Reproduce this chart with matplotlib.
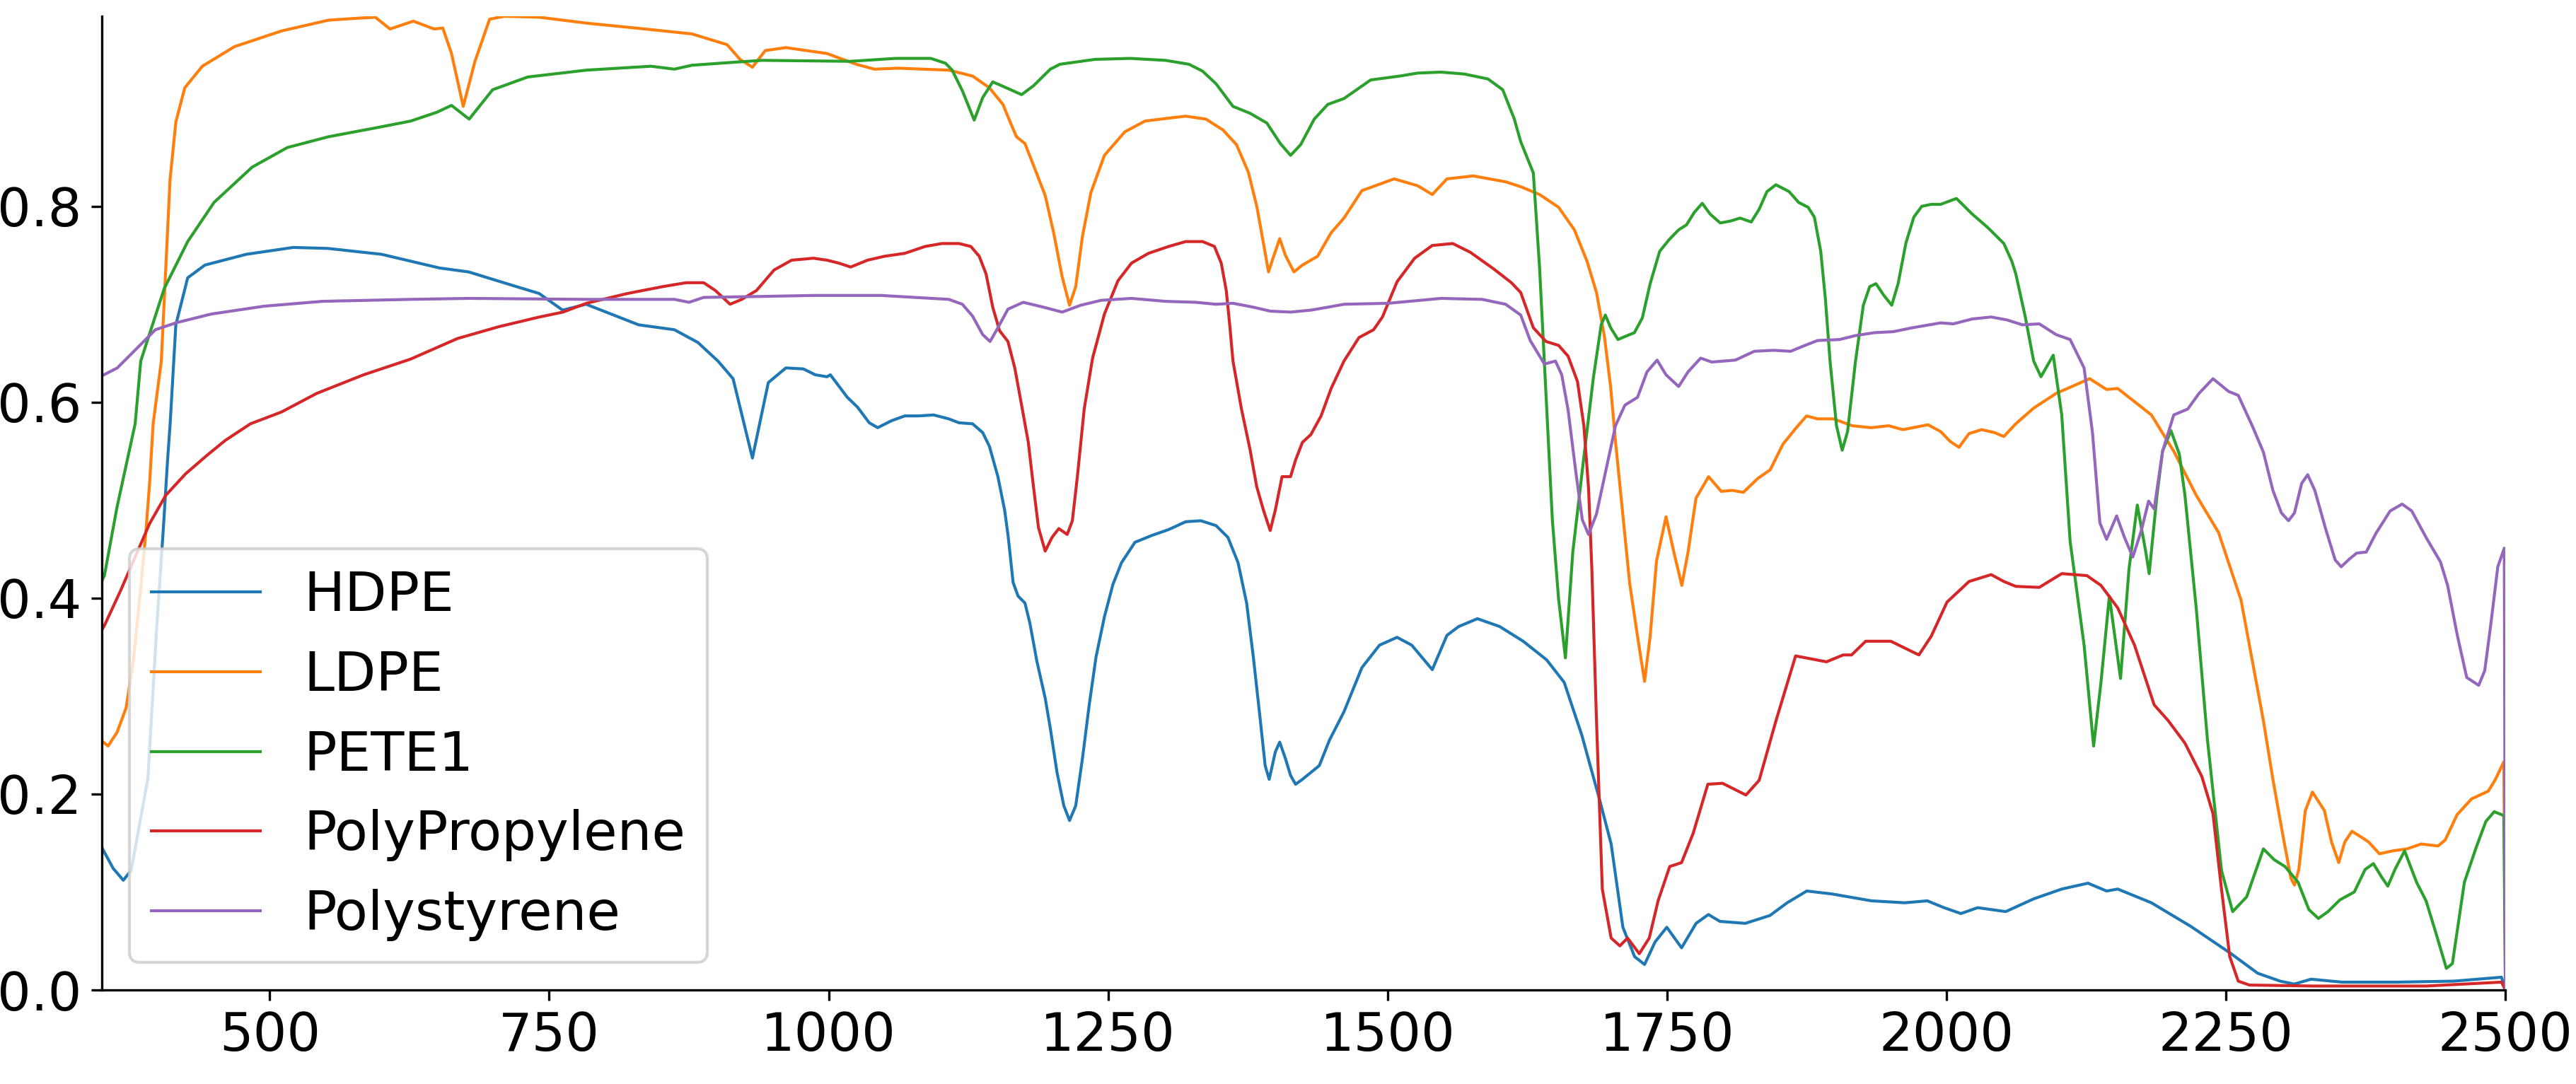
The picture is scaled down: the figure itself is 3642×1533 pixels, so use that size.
import matplotlib
matplotlib.use("Agg")
import matplotlib.pyplot as plt

# ---------------- data ----------------
hdpe_x = [350, 360, 369, 376, 391, 399, 404.7, 408.6, 410.9, 416, 426.6, 442, 479, 521, 552, 600, 652, 678, 715, 741,
          762, 783, 830, 862, 883, 901, 914.5, 931.8, 946, 961.7, 977.4, 988, 998.5, 1001.5, 1016.7, 1025.8, 1036.3,
          1043.9, 1056, 1068.1, 1080.2, 1093.9, 1107.5, 1116.6, 1128.7, 1137.8, 1143.8, 1151.4, 1157.4, 1160.5,
          1165, 1169.5, 1175.6, 1180.1, 1186.2, 1193.7, 1198.3, 1204.3, 1210.4, 1215.5, 1221, 1227, 1233.1, 1239.2,
          1246.7, 1254.3, 1261.9, 1274, 1289.1, 1304.2, 1319.4, 1333, 1346.6, 1357.2, 1366.3, 1373.9, 1379.9, 1386,
          1390.5, 1394.1, 1399.6, 1403.5, 1408.7, 1413.2, 1417.7, 1423.8, 1431.4, 1438.9, 1448, 1461, 1477, 1492.8,
          1508.5, 1521.6, 1540, 1553.1, 1563.6, 1580.4, 1600.3, 1621.3, 1642.3, 1658, 1673.8, 1689.5, 1700, 1710.5,
          1721, 1729.9, 1739.3, 1749.8, 1763, 1776, 1787, 1797.3, 1820, 1842, 1857.5, 1875, 1897.6, 1932.7, 1962.7,
          1982.8, 1997.8, 2012.9, 2027.9, 2053, 2078, 2103.1, 2126.6, 2143.2, 2153.2, 2183.3, 2218.4, 2253.4,
          2278.5, 2298.5, 2311.1, 2326.1, 2353.7, 2403.8, 2453.9, 2496.5, 2500]
hdpe_y = [0.145, 0.124, 0.112, 0.122, 0.216, 0.372, 0.469, 0.541, 0.578, 0.679, 0.727, 0.740, 0.751, 0.758, 0.757,
          0.751, 0.737, 0.733, 0.720, 0.711, 0.694, 0.700, 0.679, 0.674, 0.661, 0.642, 0.624, 0.543, 0.620, 0.635,
          0.634, 0.628, 0.626, 0.628, 0.605, 0.595, 0.579, 0.574, 0.581, 0.586, 0.586, 0.587, 0.583, 0.579, 0.578,
          0.569, 0.555, 0.524, 0.490, 0.464, 0.416, 0.402, 0.395, 0.374, 0.336, 0.298, 0.267, 0.222, 0.188, 0.173,
          0.188, 0.236, 0.291, 0.340, 0.381, 0.414, 0.436, 0.457, 0.464, 0.470, 0.478, 0.479, 0.474, 0.462, 0.436,
          0.395, 0.340, 0.277, 0.229, 0.215, 0.243, 0.253, 0.236, 0.219, 0.210, 0.215, 0.222, 0.229, 0.255, 0.284,
          0.329, 0.352, 0.360, 0.352, 0.327, 0.362, 0.371, 0.379, 0.371, 0.356, 0.337, 0.314, 0.260, 0.195, 0.149,
          0.064, 0.034, 0.026, 0.049, 0.064, 0.043, 0.068, 0.077, 0.070, 0.068, 0.076, 0.089, 0.101, 0.098, 0.091,
          0.089, 0.091, 0.084, 0.078, 0.084, 0.080, 0.093, 0.103, 0.109, 0.101, 0.103, 0.089, 0.065, 0.038, 0.017,
          0.009, 0.006, 0.011, 0.008, 0.008, 0.009, 0.013, 0.0]

ldpe_x = [350, 355.4, 363.4, 371.5, 378, 384.4, 389.3, 392.5, 395.7, 403, 410.8, 416, 424, 439.7, 468.5, 510.5,
          552.5, 578.7, 594.5, 607.6, 628.5, 647, 654.8, 662.6, 673.1, 683.6, 696.7, 709.9, 741.3, 783.3, 835.8,
          877.7, 909.2, 920.7, 931.8, 943.3, 961.7, 998.4, 1024.6, 1040.9, 1062.1, 1107.5, 1128.7, 1143.8, 1155.9,
          1163.5, 1168, 1175.6, 1183.2, 1193.7, 1201.3, 1208.9, 1215.5, 1221, 1227, 1234.6, 1246.7, 1264.9, 1283,
          1304.2, 1319.4, 1337.5, 1352.7, 1364.8, 1375.4, 1383, 1389, 1393.5, 1398.1, 1403.5, 1408.6, 1416.2,
          1423.8, 1437.4, 1449.5, 1461, 1477, 1505.9, 1526.9, 1540, 1553.1, 1576.7, 1605.6, 1619.1, 1636, 1653,
          1667.1, 1678.4, 1686.9, 1694, 1699.6, 1703.9, 1709.5, 1716.6, 1723.6, 1729.9, 1734.9, 1740.6, 1749.1,
          1756.1, 1763.2, 1768.8, 1775.9, 1787.2, 1798.5, 1808.4, 1818.3, 1831, 1842.3, 1853.6, 1864.9, 1874.8,
          1884.7, 1898.8, 1915.7, 1932.7, 1948.2, 1961, 1983.5, 1994.8, 2003.3, 2011.2, 2020.2, 2031.5, 2042.9,
          2051.3, 2062, 2078, 2098.1, 2128.1, 2143.2, 2153.2, 2183.3, 2203.3, 2223.4, 2243.4, 2263.5, 2283.5, 2292,
          2300.6, 2308.1, 2311.3, 2315.2, 2321, 2327.4, 2338.1, 2344.5, 2350.9, 2356.3, 2362.7, 2371.2, 2377.7,
          2387.3, 2399.1, 2411.9, 2424.7, 2439.7, 2446.1, 2456.8, 2469.7, 2484.7, 2491.1, 2498.6, 2500]
ldpe_y = [0.254, 0.249, 0.263, 0.288, 0.336, 0.408, 0.469, 0.517, 0.578, 0.642, 0.827, 0.886, 0.921, 0.943, 0.963,
          0.979, 0.990, 0.992, 0.993, 0.981, 0.989, 0.981, 0.982, 0.956, 0.902, 0.948, 0.991, 0.994, 0.993, 0.987,
          0.981, 0.976, 0.965, 0.950, 0.942, 0.959, 0.962, 0.956, 0.945, 0.940, 0.941, 0.939, 0.933, 0.921, 0.904,
          0.883, 0.871, 0.864, 0.842, 0.811, 0.773, 0.728, 0.699, 0.718, 0.769, 0.814, 0.852, 0.876, 0.887, 0.890,
          0.892, 0.889, 0.878, 0.863, 0.835, 0.800, 0.762, 0.733, 0.749, 0.767, 0.750, 0.733, 0.740, 0.749, 0.773,
          0.788, 0.816, 0.828, 0.821, 0.812, 0.828, 0.831, 0.825, 0.820, 0.812, 0.799, 0.776, 0.744, 0.712, 0.667,
          0.615, 0.560, 0.496, 0.415, 0.361, 0.315, 0.361, 0.438, 0.483, 0.447, 0.413, 0.447, 0.502, 0.524, 0.509,
          0.510, 0.508, 0.522, 0.531, 0.557, 0.573, 0.586, 0.583, 0.583, 0.576, 0.574, 0.576, 0.572, 0.577, 0.570,
          0.560, 0.554, 0.568, 0.572, 0.569, 0.565, 0.578, 0.594, 0.609, 0.624, 0.613, 0.614, 0.587, 0.550, 0.505,
          0.467, 0.398, 0.275, 0.215, 0.160, 0.114, 0.107, 0.123, 0.183, 0.202, 0.183, 0.151, 0.130, 0.151, 0.162,
          0.156, 0.151, 0.139, 0.142, 0.144, 0.149, 0.147, 0.153, 0.179, 0.195, 0.203, 0.215, 0.233, 0.0]

pete_x = [350, 352.1, 363.4, 379.6, 384.6, 405.6, 426.6, 450.2, 484.3, 515.8, 552.5, 594.5, 626, 649.5, 662.6,
          678.4, 699.4, 730.8, 783.3, 841, 862, 877.7, 914.5, 940.7, 1019.4, 1060, 1091.4, 1104.6, 1110.5, 1119.6,
          1130.2, 1137.8, 1146.8, 1158.9, 1172.6, 1183.2, 1198.3, 1206.9, 1238.3, 1269.8, 1301.3, 1322.3, 1334.5,
          1346.6, 1361.7, 1376.9, 1392, 1404.1, 1413.2, 1422.3, 1434.4, 1446.5, 1461, 1484.9, 1511.1, 1526.9,
          1547.8, 1568.8, 1589.8, 1603, 1613.4, 1619.1, 1630.4, 1636, 1641.7, 1647.4, 1653, 1659.1, 1665.7, 1675.6,
          1684.1, 1691.1, 1694.8, 1699.6, 1706.1, 1712.3, 1720.8, 1727.9, 1734.9, 1743.4, 1751.9, 1760.4, 1767.4,
          1774.5, 1781.5, 1788.6, 1797.6, 1806.9, 1815.4, 1825.3, 1832.4, 1839.4, 1847.4, 1859.2, 1867.7, 1876.2,
          1881.8, 1887.5, 1891.7, 1895.9, 1901.6, 1906.7, 1911.5, 1918.5, 1925.6, 1931.3, 1936.9, 1944, 1951,
          1956.7, 1963.8, 1970.8, 1977.9, 1986.3, 1994.8, 2008.9, 2023.1, 2037.2, 2051.3, 2058.4, 2062, 2070.5,
          2078, 2084.5, 2095.5, 2103.1, 2110.6, 2123.1, 2131.6, 2138.2, 2145.7, 2155.7, 2163.2, 2170.7, 2178.3,
          2181.3, 2188.3, 2193.3, 2200.8, 2208.3, 2213.3, 2223.4, 2233.4, 2246, 2256, 2268.5, 2283.5, 2293.1,
          2302.8, 2314.5, 2324.2, 2332.7, 2341.3, 2352, 2364.8, 2374.5, 2381.9, 2389.4, 2394.8, 2401.2, 2409.8,
          2420.5, 2429, 2437.6, 2447.2, 2452.6, 2463.3, 2474, 2482.5, 2490, 2498.6, 2500]
pete_y = [0.418, 0.423, 0.493, 0.578, 0.642, 0.716, 0.764, 0.804, 0.840, 0.860, 0.871, 0.880, 0.887, 0.896, 0.903,
          0.889, 0.919, 0.932, 0.939, 0.943, 0.940, 0.944, 0.947, 0.949, 0.948, 0.951, 0.951, 0.946, 0.939, 0.918,
          0.888, 0.911, 0.927, 0.921, 0.914, 0.923, 0.940, 0.945, 0.950, 0.951, 0.949, 0.945, 0.938, 0.925, 0.902,
          0.895, 0.885, 0.864, 0.852, 0.863, 0.889, 0.904, 0.910, 0.929, 0.933, 0.936, 0.937, 0.935, 0.930, 0.919,
          0.889, 0.866, 0.834, 0.737, 0.609, 0.480, 0.399, 0.339, 0.447, 0.544, 0.625, 0.679, 0.689, 0.676, 0.664,
          0.667, 0.671, 0.686, 0.721, 0.754, 0.766, 0.776, 0.781, 0.794, 0.803, 0.792, 0.783, 0.785, 0.788, 0.784,
          0.797, 0.815, 0.822, 0.815, 0.804, 0.799, 0.789, 0.754, 0.705, 0.641, 0.576, 0.551, 0.570, 0.641, 0.699,
          0.718, 0.721, 0.709, 0.699, 0.721, 0.763, 0.789, 0.800, 0.802, 0.802, 0.808, 0.792, 0.778, 0.762, 0.744,
          0.731, 0.687, 0.642, 0.626, 0.648, 0.587, 0.458, 0.352, 0.249, 0.314, 0.402, 0.318, 0.429, 0.495, 0.447,
          0.425, 0.505, 0.550, 0.571, 0.547, 0.505, 0.390, 0.256, 0.122, 0.080, 0.095, 0.144, 0.133, 0.126, 0.110,
          0.082, 0.073, 0.080, 0.092, 0.100, 0.123, 0.129, 0.115, 0.106, 0.123, 0.142, 0.110, 0.091, 0.059, 0.022,
          0.027, 0.110, 0.146, 0.172, 0.182, 0.178, 0.0]

pp_x = [350, 352.1, 366.7, 379.6, 392.5, 407, 424.8, 444.1, 460.2, 482.8, 510.5, 542, 584, 626, 667.9, 704.6,
        741.3, 762.3, 783.3, 820, 851.5, 872.5, 888.2, 898.7, 911.8, 922.3, 935.4, 951.2, 966.9, 986.4, 998.5,
        1009.1, 1019.7, 1034.8, 1050, 1068.1, 1086.3, 1101.4, 1116.6, 1127.2, 1134.7, 1140.8, 1146.8, 1152.9,
        1160.4, 1166.5, 1172.6, 1178.6, 1183.2, 1187.7, 1193.7, 1199.8, 1205.9, 1213.4, 1218, 1222.5, 1228.6,
        1236.1, 1246.7, 1258.8, 1270.9, 1286.1, 1304.2, 1319.4, 1334.5, 1345.1, 1351.2, 1355.7, 1358.7, 1361.7,
        1369.3, 1376.9, 1382.9, 1388.9, 1395, 1399.6, 1405.6, 1413.2, 1417.7, 1423.8, 1431.4, 1440.5, 1449.5,
        1461, 1474.4, 1487.5, 1495.4, 1508.5, 1524.2, 1540, 1558.3, 1574.1, 1595, 1610.8, 1619.1, 1630.4, 1641.7,
        1653, 1661.5, 1669.9, 1675.6, 1679.8, 1682.7, 1684.6, 1686.9, 1692.1, 1700, 1707.8, 1714.7, 1725.2,
        1734.1, 1742, 1752.4, 1763, 1773.4, 1786.5, 1799.6, 1820.6, 1832.4, 1847.5, 1865, 1892.6, 1907.6, 1915.1,
        1927.7, 1950.2, 1975.3, 1986.3, 2000.5, 2020.2, 2040, 2051.3, 2062, 2083, 2103.1, 2125.6, 2138.2, 2153.2,
        2168.2, 2185.8, 2198.3, 2213.3, 2228.4, 2238.4, 2246, 2253.4, 2261, 2271, 2328.6, 2428.9, 2496.5, 2500]
pp_y = [0.368, 0.372, 0.408, 0.442, 0.476, 0.505, 0.527, 0.546, 0.561, 0.578, 0.590, 0.609, 0.628, 0.644, 0.665,
        0.677, 0.687, 0.692, 0.701, 0.711, 0.718, 0.722, 0.722, 0.714, 0.700, 0.705, 0.714, 0.735, 0.745, 0.747,
        0.745, 0.742, 0.738, 0.745, 0.749, 0.752, 0.759, 0.762, 0.762, 0.759, 0.749, 0.731, 0.697, 0.673, 0.662,
        0.635, 0.597, 0.559, 0.514, 0.472, 0.448, 0.462, 0.471, 0.465, 0.479, 0.524, 0.593, 0.645, 0.690, 0.724,
        0.742, 0.752, 0.759, 0.764, 0.764, 0.759, 0.742, 0.714, 0.680, 0.642, 0.593, 0.552, 0.514, 0.490, 0.469,
        0.490, 0.524, 0.524, 0.541, 0.559, 0.567, 0.586, 0.614, 0.642, 0.666, 0.674, 0.687, 0.723, 0.747, 0.760,
        0.762, 0.753, 0.736, 0.722, 0.712, 0.676, 0.662, 0.658, 0.647, 0.621, 0.576, 0.512, 0.431, 0.361, 0.275,
        0.103, 0.053, 0.045, 0.053, 0.037, 0.053, 0.091, 0.126, 0.130, 0.160, 0.210, 0.211, 0.199, 0.214, 0.275,
        0.341, 0.335, 0.342, 0.342, 0.356, 0.356, 0.342, 0.361, 0.396, 0.417, 0.424, 0.417, 0.412, 0.411, 0.425,
        0.423, 0.413, 0.390, 0.352, 0.291, 0.275, 0.252, 0.218, 0.180, 0.103, 0.034, 0.009, 0.005, 0.004, 0.004,
        0.008, 0.0]

ps_x = [350, 363.6, 379.4, 397.7, 416, 447.6, 494.8, 547.2, 626, 678.4, 783.3, 862, 875.1, 888.2, 940.7, 986.4,
        1046.9, 1077.2, 1107.5, 1119.6, 1128.7, 1137.8, 1144.4, 1151.4, 1160.4, 1174.1, 1192.2, 1208.9, 1225.5,
        1243.7, 1270.9, 1301.2, 1328.4, 1346.6, 1361.7, 1379.9, 1395, 1413.2, 1431.4, 1446.5, 1461, 1500.6,
        1547.8, 1584.6, 1605.6, 1619.1, 1627.6, 1640.3, 1650.2, 1655.8, 1661.5, 1668.5, 1674.2, 1679.8, 1686.9,
        1695.4, 1703.9, 1712.3, 1723.6, 1732.1, 1741.1, 1749.1, 1760.4, 1768.8, 1780.1, 1790, 1811.2, 1828.1,
        1845.1, 1860.6, 1873.4, 1884.7, 1904.4, 1918.5, 1935.5, 1952.4, 1969.4, 1994.8, 2006.1, 2023.1, 2040,
        2054.1, 2068, 2083, 2098.1, 2110.6, 2123.1, 2130.6, 2137.2, 2143.2, 2152.2, 2159.2, 2166.7, 2174.3,
        2180.8, 2185.8, 2193.3, 2203.3, 2215.8, 2225.9, 2238.4, 2252.4, 2261, 2273.5, 2283.5, 2292, 2299.6, 2306,
        2311.3, 2317.7, 2323.1, 2329.5, 2339.1, 2347.7, 2353.1, 2360.5, 2367, 2375.5, 2384.1, 2396.9, 2407.6,
        2416.2, 2429, 2441.9, 2448.3, 2456.8, 2465.4, 2476.1, 2481.5, 2486.8, 2493.2, 2499, 2500]
ps_y = [0.627, 0.635, 0.653, 0.674, 0.681, 0.690, 0.698, 0.703, 0.705, 0.706, 0.705, 0.705, 0.702, 0.707, 0.708,
        0.709, 0.709, 0.707, 0.705, 0.700, 0.688, 0.669, 0.662, 0.676, 0.695, 0.702, 0.697, 0.692, 0.699, 0.704,
        0.706, 0.703, 0.702, 0.700, 0.701, 0.697, 0.693, 0.692, 0.694, 0.697, 0.700, 0.701, 0.706, 0.705, 0.700,
        0.689, 0.663, 0.639, 0.642, 0.628, 0.592, 0.528, 0.480, 0.465, 0.486, 0.531, 0.576, 0.597, 0.605, 0.631,
        0.643, 0.628, 0.616, 0.631, 0.645, 0.641, 0.643, 0.652, 0.653, 0.652, 0.658, 0.663, 0.664, 0.668, 0.671,
        0.672, 0.676, 0.681, 0.680, 0.685, 0.687, 0.684, 0.679, 0.680, 0.669, 0.664, 0.635, 0.569, 0.477, 0.460,
        0.484, 0.462, 0.442, 0.469, 0.499, 0.491, 0.550, 0.587, 0.593, 0.609, 0.624, 0.611, 0.607, 0.576, 0.549,
        0.510, 0.487, 0.479, 0.487, 0.517, 0.526, 0.510, 0.471, 0.439, 0.432, 0.440, 0.446, 0.447, 0.466, 0.489,
        0.496, 0.489, 0.462, 0.437, 0.413, 0.363, 0.319, 0.311, 0.326, 0.372, 0.432, 0.451, 0.0]

labels = ["HDPE", "LDPE", "PETE1", "PolyPropylene", "Polystyrene"]
series = [(hdpe_x, hdpe_y), (ldpe_x, ldpe_y), (pete_x, pete_y), (pp_x, pp_y), (ps_x, ps_y)]
colors = ["#1f77b4", "#ff7f0e", "#2ca02c", "#d62728", "#9467bd"]
xticks = [500, 750, 1000, 1250, 1500, 1750, 2000, 2250, 2500]
yticks = [0.0, 0.2, 0.4, 0.6, 0.8]

# ---------------- figure ----------------
plt.rcParams['font.family'] = ['DejaVu Sans']
fig = plt.figure(figsize=(3642 / 300, 1533 / 300), dpi=300)
ax = fig.add_axes([144.3 / 3642, 133 / 1533, (3542.2 - 144.3) / 3642, (1400 - 23) / 1533])

for (xs, ys), lab, c in zip(series, labels, colors):
    ax.plot(xs, ys, color=c, lw=1.0, label=lab)

ax.set_xlim(350, 2500)
ax.set_ylim(0, 0.994)
ax.set_xticks(xticks)
ax.set_yticks(yticks)
ax.tick_params(labelsize=18)
ax.spines['top'].set_visible(False)
ax.spines['right'].set_visible(False)
ax.legend(loc='lower left', fontsize=18.5)

fig.savefig("out.png", dpi=300)
